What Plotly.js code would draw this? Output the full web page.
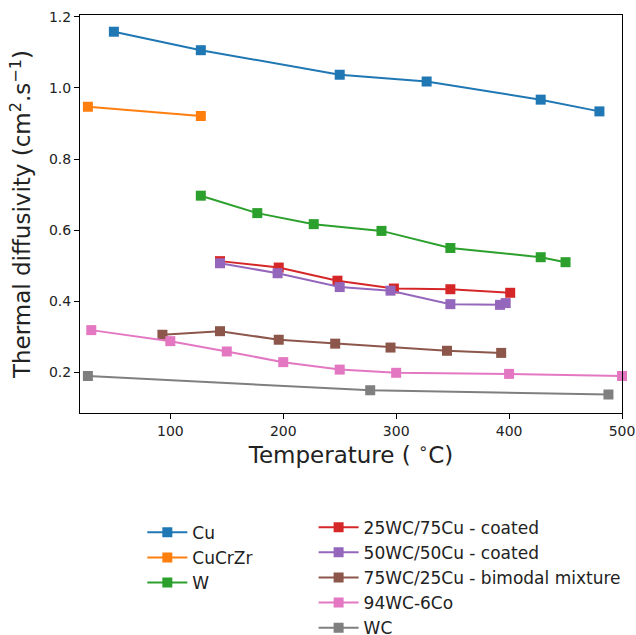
<!DOCTYPE html>
<html>
<head>
<meta charset="utf-8">
<script src="https://cdn.plot.ly/plotly-3.0.1.min.js"></script>
<style>html,body{margin:0;padding:0;background:#fff;}#chart{width:636px;height:635px;}</style>
</head>
<body>
<div id="chart"></div>
<script>
// Series data (Temperature in °C, thermal diffusivity in cm^2/s)
const cuX = [50, 127, 250, 327, 428, 480];
const cuY = [1.158, 1.106, 1.037, 1.018, 0.967, 0.934];

const cucrzrX = [27, 127];
const cucrzrY = [0.947, 0.921];

const wX = [127, 177, 227, 287, 348, 428, 450];
const wY = [0.697, 0.648, 0.617, 0.598, 0.550, 0.524, 0.510];

const wc25X = [144, 196, 248, 298, 348, 401];
const wc25Y = [0.513, 0.495, 0.458, 0.436, 0.434, 0.424];

const wc50X = [144, 195, 250, 295, 348, 392, 397];
const wc50Y = [0.507, 0.479, 0.440, 0.430, 0.392, 0.390, 0.395];

const wc75X = [93, 144, 196, 246, 295, 345, 393];
const wc75Y = [0.306, 0.316, 0.292, 0.281, 0.270, 0.261, 0.255];

const wcCoX = [30, 100, 150, 200, 250, 300, 400, 500];
const wcCoY = [0.319, 0.288, 0.259, 0.229, 0.208, 0.199, 0.196, 0.190];

const wcX = [27, 277, 488];
const wcY = [0.190, 0.150, 0.138];

const names = ["Cu", "CuCrZr", "W", "25WC/75Cu - coated", "50WC/50Cu - coated",
               "75WC/25Cu - bimodal mixture", "94WC-6Co", "WC"];
const colors = ["#1f77b4", "#ff7f0e", "#2ca02c", "#d62728", "#9467bd", "#8c564b", "#e377c2", "#7f7f7f"];
const xs = [cuX, cucrzrX, wX, wc25X, wc50X, wc75X, wcCoX, wcX];
const ys = [cuY, cucrzrY, wY, wc25Y, wc50Y, wc75Y, wcCoY, wcY];

const traces = names.map((n, i) => ({
  x: xs[i], y: ys[i], name: n, type: "scatter", mode: "lines+markers",
  line: {color: colors[i], width: 2},
  marker: {symbol: "square", size: 10, color: colors[i]},
  legend: i < 3 ? "legend" : "legend2",
  legendgroup: "g" + i,
  cliponaxis: false
}));

const fam = "DejaVu Sans, sans-serif";
const legendBase = {
  xref: "paper", yref: "paper", xanchor: "left", yanchor: "top",
  bgcolor: "rgba(0,0,0,0)", borderwidth: 0,
  font: {family: fam, size: 17, color: "#222"},
  tracegroupgap: 0, itemwidth: 40, itemclick: false
};

const layout = {
  width: 636, height: 635,
  margin: {l: 80, r: 14, t: 15, b: 222, autoexpand: false},
  paper_bgcolor: "#fff", plot_bgcolor: "#fff",
  font: {family: fam, color: "#222"},
  showlegend: true,
  xaxis: {
    range: [20, 500], tickvals: [100, 200, 300, 400, 500],
    showgrid: false, zeroline: false,
    showline: true, mirror: true, linecolor: "#000", linewidth: 1,
    ticks: "outside", ticklen: 5, tickcolor: "#000",
    tickfont: {size: 14, family: fam, color: "#222"},
    title: {text: "Temperature ( <sup>∘</sup>C)", font: {size: 23, family: fam, color: "#222"}, standoff: 5},
    automargin: false
  },
  yaxis: {
    range: [0.086, 1.205], tickvals: [0.2, 0.4, 0.6, 0.8, 1.0, 1.2], tickformat: ".1f",
    showgrid: false, zeroline: false,
    showline: true, mirror: true, linecolor: "#000", linewidth: 1,
    ticks: "outside", ticklen: 5, tickcolor: "#000",
    tickfont: {size: 14, family: fam, color: "#222"},
    title: {text: "Thermal diffusivity (cm<sup>2</sup>.s<sup>−1</sup>)", font: {size: 23, family: fam, color: "#222"}, standoff: 11},
    automargin: false
  },
  legend: Object.assign({}, legendBase, {x: 0.115, y: -0.2557}),
  legend2: Object.assign({}, legendBase, {x: 0.431, y: -0.243})
};

Plotly.newPlot("chart", traces, layout, {displayModeBar: false, staticPlot: true});
</script>
</body>
</html>
